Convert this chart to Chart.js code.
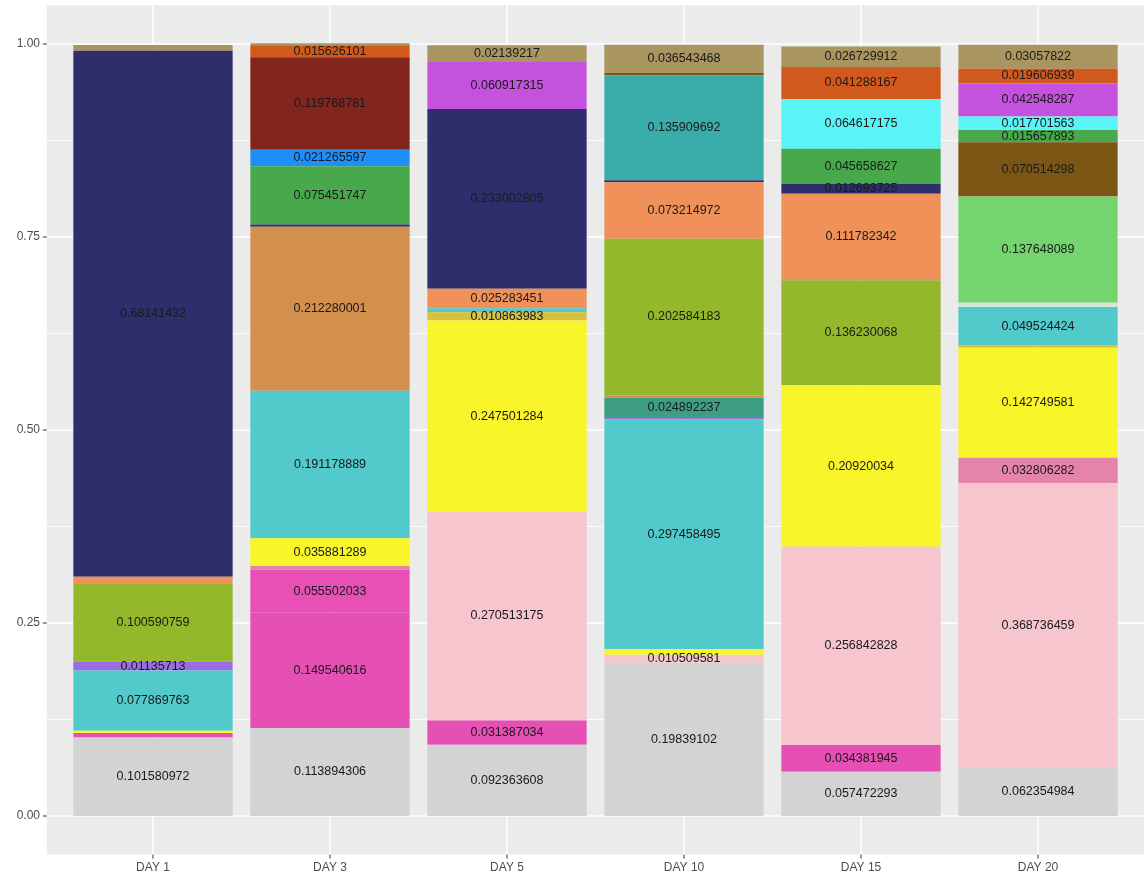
<!DOCTYPE html>
<html>
<head>
<meta charset="utf-8">
<script src="https://cdn.jsdelivr.net/npm/chart.js@4.4.1/dist/chart.umd.min.js"></script>
<style>
    html, body { margin: 0; padding: 0; background: #ffffff; }
    #wrap { width: 1144px; height: 880px; }
</style>
</head>
<body>
<div id="wrap"><canvas id="composition-chart" width="1144" height="880"></canvas></div>
<script>
/* relative abundance per sampling day, stacked to 1.0 */

const days = ["DAY 1", "DAY 3", "DAY 5", "DAY 10", "DAY 15", "DAY 20"];

// y axis breaks
const yMajor = [0, 0.25, 0.5, 0.75, 1];
const yMinor = [0.125, 0.375, 0.625, 0.875];

// one array per group, bottom of the stack first (null = absent that day)
const grayShare      = [0.101580972, 0.113894306, 0.092363608, 0.19839102, 0.057472293, 0.062354984];
const magentaShare   = [0.006, 0.149540616, 0.031387034, null, 0.034381945, null];
const magenta2Share  = [null, 0.055502033, null, null, null, null];
const lightPinkShare = [null, null, 0.270513175, 0.010509581, 0.256842828, 0.368736459];
const darkPinkShare  = [null, 0.005, null, null, null, 0.032806282];
const yellowShare    = [0.003, 0.035881289, 0.247501284, 0.0075, 0.20920034, 0.142749581];
const goldShare      = [null, null, 0.010863983, null, null, 0.003];
const tealShare      = [0.077869763, 0.191178889, 0.005, 0.297458495, null, 0.049524424];
const paleShare      = [null, null, null, null, null, 0.0055];
const purpleShare    = [0.01135713, null, null, 0.003, null, null];
const darkTealShare  = [null, null, null, 0.024892237, null, null];
const tanShare       = [null, 0.212280001, null, 0.0034, null, null];
const oliveShare     = [0.100590759, null, null, 0.202584183, 0.136230068, null];
const orangeShare    = [0.0095, null, 0.025283451, 0.073214972, 0.111782342, null];
const navyShare      = [0.68141432, 0.003, 0.233002805, 0.0027, 0.012693725, null];
const teal2Share     = [null, null, null, 0.135909692, null, null];
const lightGreenShare= [null, null, null, null, null, 0.137648089];
const brownShare     = [null, null, null, 0.003, null, 0.070514298];
const greenShare     = [null, 0.075451747, null, null, 0.045658627, 0.015657893];
const blueShare      = [null, 0.021265597, null, null, null, null];
const darkRedShare   = [null, 0.119768781, null, null, null, null];
const aquaShare      = [null, null, null, null, 0.064617175, 0.017701563];
const violetShare    = [null, null, 0.060917315, null, null, 0.042548287];
const orangeRedShare = [null, 0.015626101, null, null, 0.041288167, 0.019606939];
const khakiShare     = [0.0075, 0.0025, 0.02139217, 0.036543468, 0.026729912, 0.03057822];

const groups = [
    { data: grayShare,       color: "#D3D3D3" },
    { data: magentaShare,    color: "#E64FB4" },
    { data: magenta2Share,   color: "#E850B6" },
    { data: lightPinkShare,  color: "#F6C5CD" },
    { data: darkPinkShare,   color: "#E484AA" },
    { data: yellowShare,     color: "#F9F52B" },
    { data: goldShare,       color: "#D8C23C" },
    { data: tealShare,       color: "#52CACB" },
    { data: paleShare,       color: "#D6E8D4" },
    { data: purpleShare,     color: "#9B6DE3" },
    { data: darkTealShare,   color: "#3E9E84" },
    { data: tanShare,        color: "#D28F4E" },
    { data: oliveShare,      color: "#94B82C" },
    { data: orangeShare,     color: "#F0915A" },
    { data: navyShare,       color: "#2F2E6C" },
    { data: teal2Share,      color: "#3AADAA" },
    { data: lightGreenShare, color: "#74D46E" },
    { data: brownShare,      color: "#7B5513" },
    { data: greenShare,      color: "#47A94B" },
    { data: blueShare,       color: "#1E8FF8" },
    { data: darkRedShare,    color: "#81251D" },
    { data: aquaShare,       color: "#5AF3F7" },
    { data: violetShare,     color: "#C552DE" },
    { data: orangeRedShare,  color: "#D1591E" },
    { data: khakiShare,      color: "#A99560" }
];

// grey panel, white grid and short axis ticks (ggplot look)
const panelPlugin = {
    id: "panel",
    beforeDraw(chart) {
        const { ctx, chartArea, scales } = chart;
        const x = scales.x, y = scales.y;
        const unit = (chartArea.right - chartArea.left) / days.length;
        const left = chartArea.left - 0.1 * unit;
        const right = chartArea.right + 0.1 * unit;

        ctx.save();
        ctx.fillStyle = "#EBEBEB";
        ctx.fillRect(left, chartArea.top, right - left, chartArea.bottom - chartArea.top);

        ctx.strokeStyle = "#FFFFFF";
        ctx.lineWidth = 0.8;
        yMinor.forEach(v => {
            const py = y.getPixelForValue(v);
            ctx.beginPath(); ctx.moveTo(left, py); ctx.lineTo(right, py); ctx.stroke();
        });

        ctx.lineWidth = 1.6;
        yMajor.forEach(v => {
            const py = y.getPixelForValue(v);
            ctx.beginPath(); ctx.moveTo(left, py); ctx.lineTo(right, py); ctx.stroke();
        });
        days.forEach((d, i) => {
            const px = x.getPixelForValue(i);
            ctx.beginPath(); ctx.moveTo(px, chartArea.top); ctx.lineTo(px, chartArea.bottom); ctx.stroke();
        });

        ctx.strokeStyle = "#333333";
        ctx.lineWidth = 1;
        yMajor.forEach(v => {
            const py = y.getPixelForValue(v);
            ctx.beginPath(); ctx.moveTo(left - 4, py); ctx.lineTo(left, py); ctx.stroke();
        });
        days.forEach((d, i) => {
            const px = x.getPixelForValue(i);
            ctx.beginPath(); ctx.moveTo(px, chartArea.bottom); ctx.lineTo(px, chartArea.bottom + 4); ctx.stroke();
        });
        ctx.restore();
    }
};

// value text in the middle of every segment above 0.01
const segmentLabels = {
    id: "segmentLabels",
    afterDatasetsDraw(chart) {
        const ctx = chart.ctx;
        ctx.save();
        ctx.font = "12.5px 'Liberation Sans', Arial, sans-serif";
        ctx.fillStyle = "#1A1A1A";
        ctx.textAlign = "center";
        ctx.textBaseline = "middle";
        chart.data.datasets.forEach((ds, di) => {
            const meta = chart.getDatasetMeta(di);
            meta.data.forEach((bar, i) => {
                const v = ds.data[i];
                if (v == null || v < 0.01) return;
                ctx.fillText(String(v), bar.x, (bar.y + bar.base) / 2);
            });
        });
        ctx.restore();
    }
};

const ctx = document.getElementById("composition-chart").getContext("2d");

new Chart(ctx, {
    type: "bar",
    data: {
        labels: days,
        datasets: groups.map(g => ({
            data: g.data,
            backgroundColor: g.color,
            borderWidth: 0,
            categoryPercentage: 0.9,
            barPercentage: 1.0
        }))
    },
    options: {
        responsive: false,
        animation: false,
        layout: { padding: { top: 5.4, right: 17.5, left: 0, bottom: 0 } },
        plugins: {
            legend: { display: false },
            tooltip: { enabled: false }
        },
        scales: {
            x: {
                stacked: true,
                grid: { display: false, drawTicks: false },
                border: { display: false },
                ticks: {
                    color: "#4D4D4D",
                    font: { family: "'Liberation Sans', Arial, sans-serif", size: 12 },
                    padding: 6,
                    maxRotation: 0
                },
                afterFit: scale => {
                    scale.height = 25.4;
                    scale.paddingLeft = 0;
                    scale.paddingRight = 0;
                }
            },
            y: {
                stacked: true,
                min: -0.05,
                max: 1.05,
                grid: { display: false, drawTicks: false },
                border: { display: false },
                afterBuildTicks: scale => {
                    scale.ticks = yMajor.map(v => ({ value: v }));
                },
                ticks: {
                    color: "#4D4D4D",
                    font: { family: "'Liberation Sans', Arial, sans-serif", size: 12 },
                    padding: 24.5,
                    callback: v => Number(v).toFixed(2)
                },
                afterFit: scale => {
                    scale.width = 64.5;
                    scale.paddingTop = 0;
                    scale.paddingBottom = 0;
                }
            }
        }
    },
    plugins: [panelPlugin, segmentLabels]
});
</script>
</body>
</html>
